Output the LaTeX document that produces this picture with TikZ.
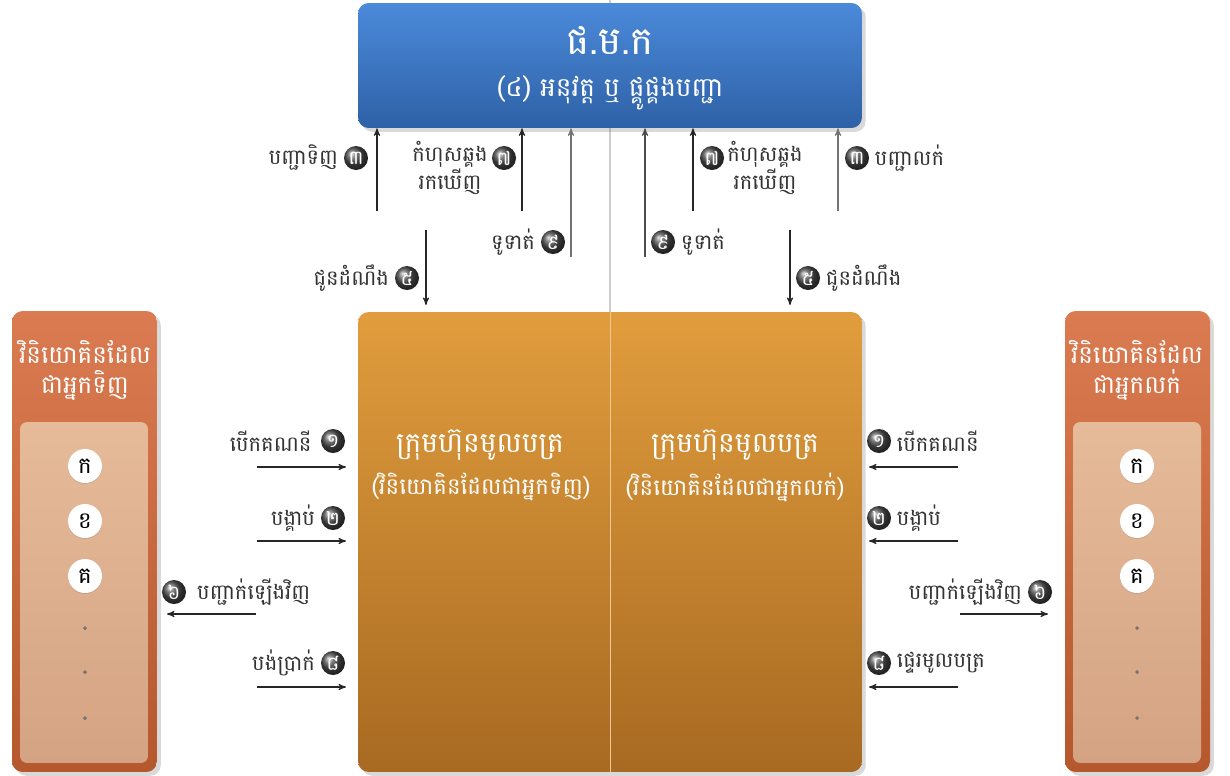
\documentclass[tikz,border=0pt]{standalone}
\usepackage{fontspec}
\newfontfamily\khmer[Script=Khmer]{Battambang}
\usepackage{tikz}
\usetikzlibrary{arrows}
\usetikzlibrary{positioning}
\usetikzlibrary{shadows}
\usepackage{xcolor}
\definecolor{secblue}{HTML}{4B8ADA}
\definecolor{secbluedk}{HTML}{2E61A6}
\definecolor{brkor}{HTML}{E19D3D}
\definecolor{brkordk}{HTML}{A86A22}
\definecolor{invor}{HTML}{DB7B51}
\definecolor{invordk}{HTML}{B5582D}
\definecolor{invtan}{HTML}{E6BB99}
\definecolor{invtandk}{HTML}{D4A383}

\tikzset{
  lbl/.style={font=\khmer\fontsize{12}{12.5}\selectfont, text=black!80, inner sep=0pt},
  badge/.style={circle, inner sep=0pt, minimum size=0.48cm, ball color=black!70, text=white, font=\khmer\fontsize{11}{11}\selectfont},
  letter/.style={circle, inner sep=0pt, minimum size=0.68cm, fill=white, drop shadow={opacity=0.3, shadow xshift=0pt, shadow yshift=-0.5pt}, font=\khmer\fontsize{13}{13}\selectfont},
  flow/.style={->, >=stealth', black!85, line width=0.6pt},
  boxtext/.style={text=white, inner sep=0pt, font=\khmer},
}

\begin{document}
\begin{tikzpicture}[x=0.02cm, y=-0.02cm]
    \useasboundingbox (0,0) rectangle (1230,775);
    \draw[black!20, line width=0.8pt] (610,0) -- (610,312);

    % boxes
    \node[rectangle, rounded corners=6pt, minimum width=10.08cm, minimum height=2.5cm, top color=secblue, bottom color=secbluedk, drop shadow={opacity=0.3}] (sec) at (610,65.5) {};
    \node[rectangle, rounded corners=6pt, minimum width=10.08cm, minimum height=9.2cm, top color=brkor, bottom color=brkordk, drop shadow={opacity=0.3}] (brk) at (610,542) {};
    \draw[white!45!brkor, line width=0.5pt] (brk.north) -- (brk.south);
    \node[rectangle, rounded corners=6pt, minimum width=2.9cm, minimum height=9.22cm, top color=invor, bottom color=invordk, drop shadow={opacity=0.3}] (buyer) at (84.5,541.5) {};
    \node[rectangle, rounded corners=4pt, minimum width=2.56cm, minimum height=6.82cm, top color=invtan, bottom color=invtandk] (buyerin) at (84,592.5) {};
    \node[rectangle, rounded corners=6pt, minimum width=2.9cm, minimum height=9.22cm, top color=invor, bottom color=invordk, drop shadow={opacity=0.3}] (seller) at (1137.5,541.5) {};
    \node[rectangle, rounded corners=4pt, minimum width=2.56cm, minimum height=6.82cm, top color=invtan, bottom color=invtandk] (sellerin) at (1137,592.5) {};

    % box texts
    \node[boxtext, font=\khmer\fontsize{22}{22}\selectfont] (secname) at (610,40) {ផ.ម.ក};
    \node[boxtext, font=\khmer\fontsize{15}{15}\selectfont] (secjob) at (610,93) {(៤) អនុវត្ត ឬ ផ្គូផ្គងបញ្ជា};
    \node[boxtext, font=\khmer\fontsize{16}{16}\selectfont] (brkLname) at (480,445) {ក្រុមហ៊ុនមូលបត្រ};
    \node[boxtext, font=\khmer\fontsize{13}{13}\selectfont] (brkLsub) at (481,487) {(វិនិយោគិនដែលជាអ្នកទិញ)};
    \node[boxtext, font=\khmer\fontsize{16}{16}\selectfont] (brkRname) at (735,445) {ក្រុមហ៊ុនមូលបត្រ};
    \node[boxtext, font=\khmer\fontsize{13}{13}\selectfont] (brkRsub) at (735,487) {(វិនិយោគិនដែលជាអ្នកលក់)};
    \node[boxtext, align=center, font=\khmer\fontsize{14}{17}\selectfont] (buyername) at (85,370) {វិនិយោគិនដែល\\ជាអ្នកទិញ};
    \node[boxtext, align=center, font=\khmer\fontsize{14}{17}\selectfont] (sellername) at (1137,370) {វិនិយោគិនដែល\\ជាអ្នកលក់};

    % investors
    \node[letter] (bk) at (85,466) {ក};
    \node[letter] (bkh) at (85,521) {ខ};
    \node[letter] (bg) at (85,576) {គ};
    \filldraw[black!55] (85,628) circle (1.5) (85,672) circle (1.5) (85,718) circle (1.5);
    \node[letter] (sk) at (1137,466) {ក};
    \node[letter] (skh) at (1137,521) {ខ};
    \node[letter] (sg) at (1137,576) {គ};
    \filldraw[black!55] (1137,628) circle (1.5) (1137,672) circle (1.5) (1137,718) circle (1.5);

    % flows to and from the exchange
    \node[badge] (n3L) at (356,158) {៣};
    \node[lbl, left=3pt of n3L] (t3L) {បញ្ជាទិញ};
    \coordinate (a3L) at (377,211);
    \draw[flow] (a3L) -- (a3L |- sec.south);
    \node[badge] (n7L) at (504,158) {៧};
    \node[lbl, align=center] (t7L) at (450,168) {កំហុសឆ្គង\\រកឃើញ};
    \coordinate (a7L) at (522,211);
    \draw[flow] (a7L) -- (a7L |- sec.south);
    \node[badge] (n9L) at (553,242) {៩};
    \node[lbl, left=3pt of n9L] (t9L) {ទូទាត់};
    \coordinate (a9L) at (571,257);
    \draw[flow, black!55] (a9L) -- (a9L |- sec.south);
    \node[badge] (n5L) at (407,278) {៥};
    \node[lbl, left=3pt of n5L] (t5L) {ជូនដំណឹង};
    \coordinate (a5L) at (426,230);
    \coordinate (b5L) at (426,305);
    \draw[flow] (a5L) -- (b5L);

    \node[badge] (n9R) at (663,242) {៩};
    \node[lbl, right=3pt of n9R] (t9R) {ទូទាត់};
    \coordinate (a9R) at (645,257);
    \draw[flow, black!70] (a9R) -- (a9R |- sec.south);
    \node[badge] (n7R) at (712,158) {៧};
    \node[lbl, align=center] (t7R) at (765,168) {កំហុសឆ្គង\\រកឃើញ};
    \coordinate (a7R) at (693,211);
    \draw[flow] (a7R) -- (a7R |- sec.south);
    \node[badge] (n3R) at (857,158) {៣};
    \node[lbl, right=3pt of n3R] (t3R) {បញ្ជាលក់};
    \coordinate (a3R) at (838,211);
    \draw[flow, black!55] (a3R) -- (a3R |- sec.south);
    \node[badge] (n5R) at (808,278) {៥};
    \node[lbl, right=3pt of n5R] (t5R) {ជូនដំណឹង};
    \coordinate (a5R) at (790,230);
    \coordinate (b5R) at (790,305);
    \draw[flow] (a5R) -- (b5R);

    % buyer side
    \node[badge] (n1L) at (333,441) {១};
    \node[lbl, left=5pt of n1L] (t1L) {បើកគណនី};
    \coordinate (a1L) at (257,467);
    \draw[flow] (a1L) -- (346,467);
    \node[badge] (n2L) at (333,518) {២};
    \node[lbl, left=3pt of n2L] (t2L) {បង្គាប់};
    \coordinate (a2L) at (257,541);
    \draw[flow] (a2L) -- (346,541);
    \node[badge] (n6L) at (174,592) {៦};
    \node[lbl, right=6pt of n6L] (t6L) {បញ្ជាក់ឡើងវិញ};
    \coordinate (a6L) at (256,614);
    \draw[flow] (a6L) -- (167,614);
    \node[badge] (n8L) at (333,663) {៨};
    \node[lbl, left=3pt of n8L] (t8L) {បង់ប្រាក់};
    \coordinate (a8L) at (257,687);
    \draw[flow] (a8L) -- (346,687);

    % seller side
    \node[badge] (n1R) at (879,441) {១};
    \node[lbl, right=3pt of n1R] (t1R) {បើកគណនី};
    \coordinate (a1R) at (958,467);
    \draw[flow] (a1R) -- (869,467);
    \node[badge] (n2R) at (879,518) {២};
    \node[lbl, right=3pt of n2R] (t2R) {បង្គាប់};
    \coordinate (a2R) at (958,541);
    \draw[flow] (a2R) -- (869,541);
    \node[badge] (n6R) at (1040,592) {៦};
    \node[lbl, left=3pt of n6R] (t6R) {បញ្ជាក់ឡើងវិញ};
    \coordinate (a6R) at (960,614);
    \draw[flow] (a6R) -- (1048,614);
    \node[badge] (n8R) at (879,663) {៨};
    \node[lbl, right=3pt of n8R] (t8R) {ផ្ទេរមូលបត្រ};
    \coordinate (a8R) at (958,687);
    \draw[flow] (a8R) -- (869,687);
\end{tikzpicture}
\end{document}
